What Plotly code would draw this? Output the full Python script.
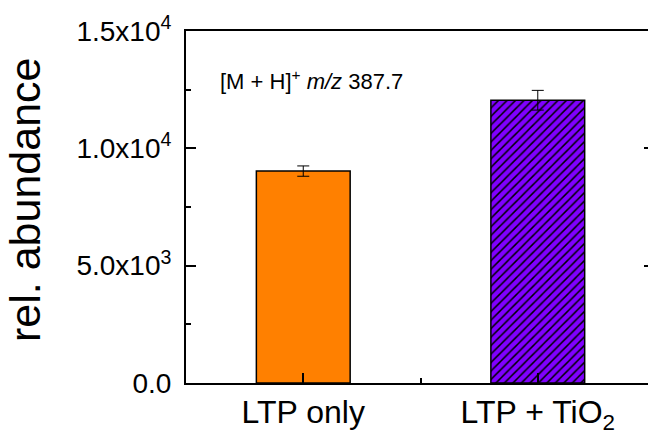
import plotly.graph_objects as go

categories = ["LTP only", "LTP + TiO<sub>2</sub>"]
x_pos = [1, 2]
values = [9030, 12050]
errors = [220, 420]
colors = ["#FF8000", "#8000FF"]
y_tickvals = [0, 5000, 10000, 15000]
y_ticktext = ["0.0", "5.0x10<sup>3</sup>", "1.0x10<sup>4</sup>", "1.5x10<sup>4</sup>"]
y_minor = [2500, 7500, 12500]
y_right = [5000, 10000]

FONT = "Liberation Sans, Arial, sans-serif"

fig = go.Figure()
fig.add_trace(go.Bar(
    x=[x_pos[0]], y=[values[0]], width=0.4,
    marker=dict(color=colors[0], line=dict(color="black", width=1.5)),
    error_y=dict(type="data", array=[errors[0]], visible=True, color="black",
                 thickness=1, width=6),
    showlegend=False,
))
fig.add_trace(go.Bar(
    x=[x_pos[1]], y=[values[1]], width=0.4, yaxis="y2",
    marker=dict(color=colors[1], line=dict(color="black", width=1.5),
                pattern=dict(shape="/", fgcolor="#000000", bgcolor=colors[1],
                             fgopacity=1, fillmode="replace",
                             size=6, solidity=0.25)),
    error_y=dict(type="data", array=[errors[1]], visible=True, color="black",
                 thickness=1, width=6),
    showlegend=False,
))

fig.add_annotation(x=0.635, y=12900, xref="x", yref="y",
                   text="[M + H]<sup>+</sup> <i>m/z</i> 387.7", showarrow=False,
                   xanchor="left", yanchor="middle",
                   font=dict(family=FONT, size=22, color="black"))

fig.update_layout(
    width=648, height=436, autosize=False,
    margin=dict(l=186, r=0, t=31, b=53, autoexpand=False),
    plot_bgcolor="white", paper_bgcolor="white",
    font=dict(family=FONT, color="black"),
    barmode="overlay",
    xaxis=dict(range=[0.5, 2.47], tickvals=x_pos, ticktext=categories,
               showline=True, linecolor="black", linewidth=2, mirror=True,
               ticks="inside", ticklen=10, tickwidth=2, tickcolor="black",
               minor=dict(tickvals=[1.5], ticks="inside", ticklen=5, tickwidth=2, tickcolor="black"),
               showgrid=False, zeroline=False, ticklabelstandoff=0,
               tickfont=dict(family=FONT, size=32)),
    yaxis=dict(range=[0, 15000], tickvals=y_tickvals, ticktext=y_ticktext,
               showline=True, linecolor="black", linewidth=2, mirror=False,
               ticks="inside", ticklen=10, tickwidth=2, tickcolor="black",
               minor=dict(tickvals=y_minor, ticks="inside", ticklen=5, tickwidth=2, tickcolor="black"),
               showgrid=False, zeroline=False, ticklabelstandoff=7,
               tickfont=dict(family=FONT, size=28)),
    yaxis2=dict(range=[0, 15000], overlaying="y", side="right", anchor="x",
                tickvals=y_right, showticklabels=False, showline=False,
                ticks="inside", ticklen=4, tickwidth=2, tickcolor="black",
                showgrid=False, zeroline=False),
)

fig.add_annotation(text="rel. abundance", showarrow=False, textangle=-90,
                   xref="paper", yref="paper",
                   x=(25 - 186) / (648 - 186), y=(383 - 200) / (383 - 31),
                   xanchor="center", yanchor="middle",
                   font=dict(family=FONT, size=43, color="black"))

fig.write_html("out.html")
